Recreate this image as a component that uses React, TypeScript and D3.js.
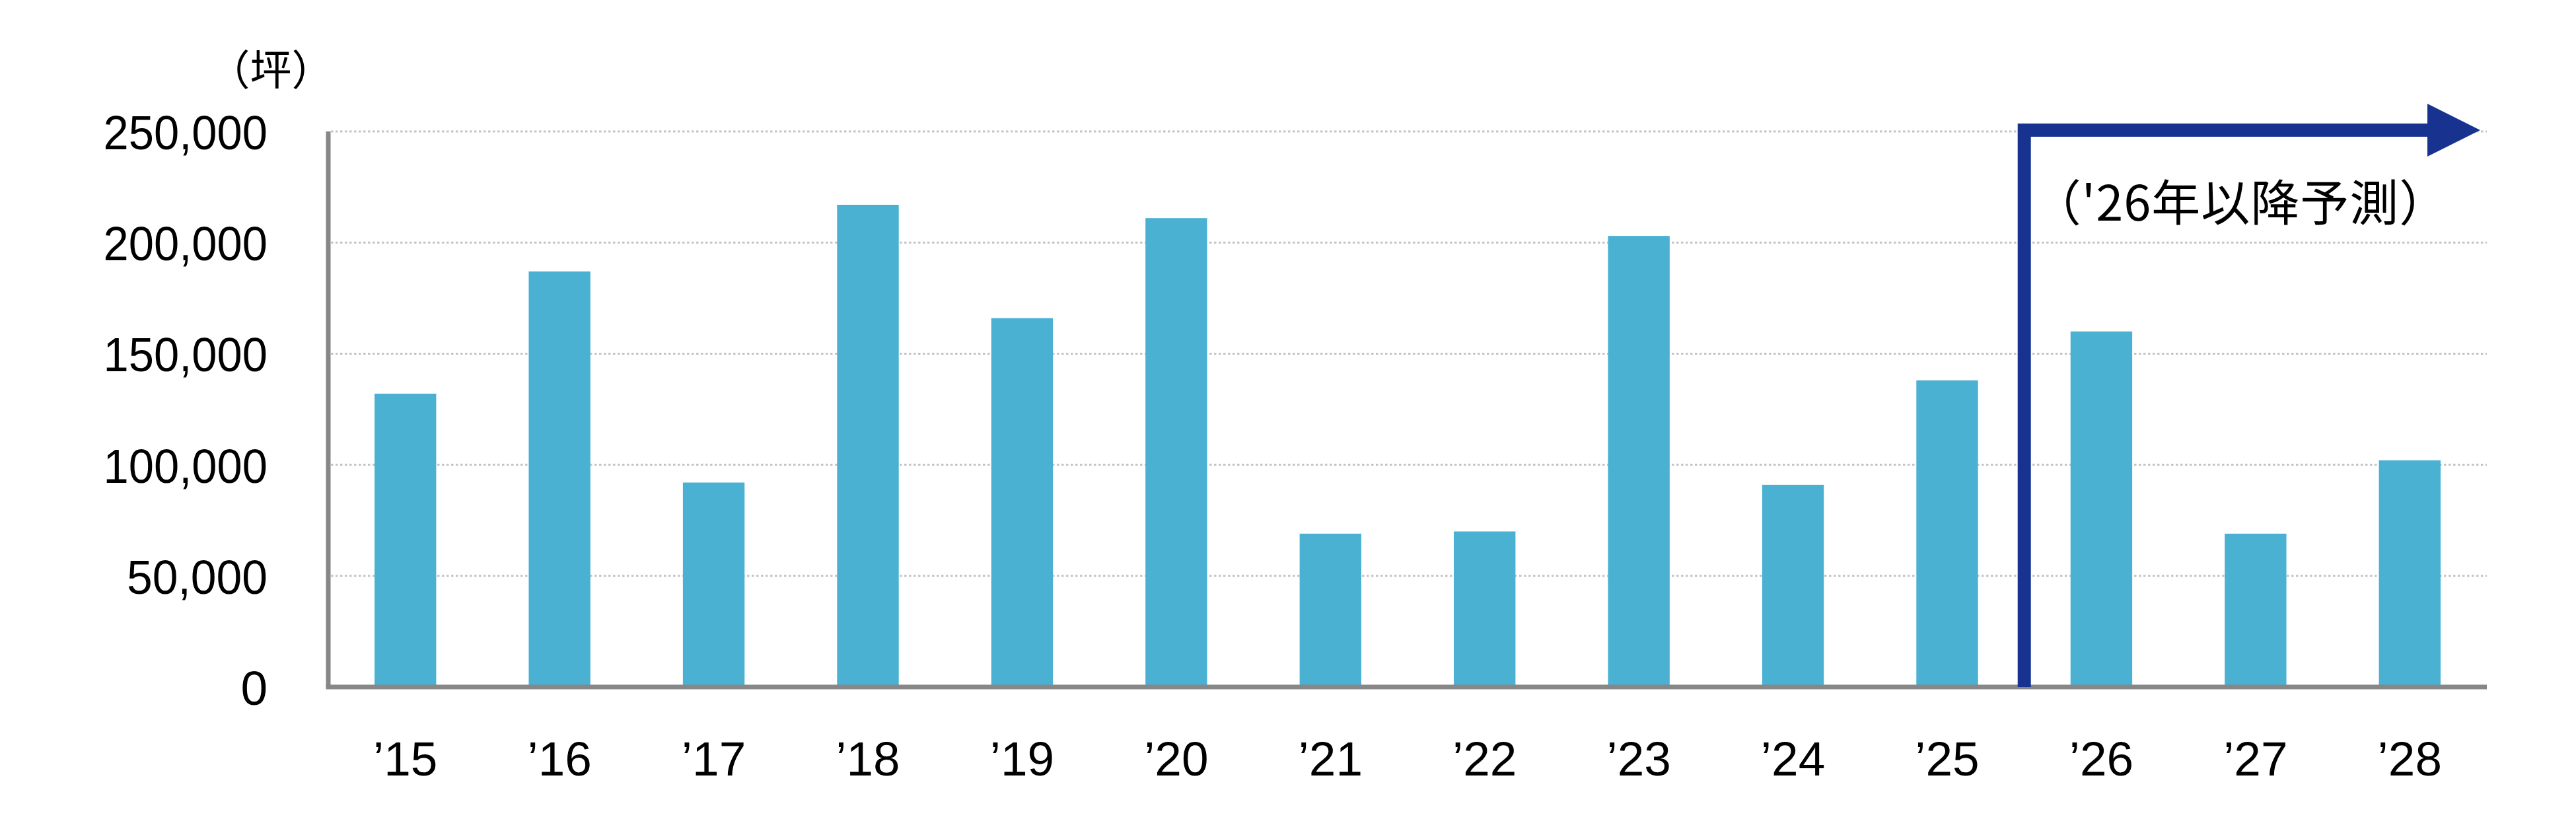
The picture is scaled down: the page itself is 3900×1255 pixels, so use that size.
import React from "react";
import * as d3 from "d3";

const categories = ["’15", "’16", "’17", "’18", "’19", "’20", "’21", "’22", "’23", "’24", "’25", "’26", "’27", "’28"];
const values = [132000, 187000, 92000, 217000, 166000, 211000, 69000, 70000, 203000, 91000, 138000, 160000, 69000, 102000];
const yTicks = [0, 50000, 100000, 150000, 200000, 250000];
const unitLabel = "（坪）";
const forecastLabel = "（'26年以降予測）";
const forecastStartIndex = 11;

const W = 3900;
const H = 1255;
const M = { left: 497, right: 3765, top: 199, bottom: 1040 };

export default function App() {
  const x = d3.scaleBand<string>().domain(categories).range([M.left, M.right]).paddingInner(0.6).paddingOuter(0.3);
  const y = d3.scaleLinear().domain([0, 250000]).range([M.bottom, M.top]);
  const fmt = d3.format(",");
  const step = x.step();
  const arrowX = M.left + step * forecastStartIndex;
  const arrowY = y(250000) - 2;
  const tipX = M.right - 10;
  const headBase = tipX - 80;
  const navy = "#17338f";
  const font = "'Liberation Sans', Arial, sans-serif";
  const cjk = "'Noto Sans CJK JP', 'Noto Sans', sans-serif";

  return (
    <svg width={W} height={H} style={{ position: "absolute", left: 0, top: 0, background: "#fff" }}>
      <rect x={0} y={0} width={W} height={H} fill="#fff" />
      {yTicks.filter((t) => t > 0).map((t) => (
        <line key={"g" + t} x1={M.left + 4} x2={M.right} y1={y(t)} y2={y(t)} stroke="#c4c4c4" strokeWidth={3} strokeDasharray="3.5 3.5" />
      ))}
      {values.map((v, i) => (
        <rect key={"b" + i} x={x(categories[i])} y={y(v)} width={x.bandwidth()} height={y(0) - y(v)} fill="#4ab1d3" />
      ))}
      <line x1={M.left} x2={M.left} y1={M.top} y2={M.bottom} stroke="#878787" strokeWidth={7} />
      <line x1={M.left - 3.5} x2={M.right} y1={M.bottom} y2={M.bottom} stroke="#878787" strokeWidth={7} />
      {yTicks.map((t) => (
        <text key={"t" + t} x={405} y={y(t) + 27} textAnchor="end" fontFamily={font} fontSize={73} fill="#000"
          textLength={t === 0 ? undefined : fmt(t).length * 35.5} lengthAdjust="spacingAndGlyphs">{fmt(t)}</text>
      ))}
      {categories.map((c) => (
        <text key={"x" + c} x={(x(c) as number) + x.bandwidth() / 2} y={1174} textAnchor="middle" fontFamily={font} fontSize={73} fill="#000">{c}</text>
      ))}
      <text x={410} y={100} textAnchor="middle" dominantBaseline="central" fontFamily={cjk} fontSize={63} fill="#000">{unitLabel}</text>
      <path d={`M${arrowX},${M.bottom} L${arrowX},${arrowY} L${headBase},${arrowY}`} fill="none" stroke={navy} strokeWidth={20} strokeLinejoin="miter" />
      <path d={`M${headBase},${arrowY - 40} L${tipX},${arrowY} L${headBase},${arrowY + 40} Z`} fill={navy} />
      <text x={3392} y={301} textAnchor="middle" dominantBaseline="central" fontFamily={cjk} fontSize={74} letterSpacing={1} fill="#000">{forecastLabel}</text>
    </svg>
  );
}
